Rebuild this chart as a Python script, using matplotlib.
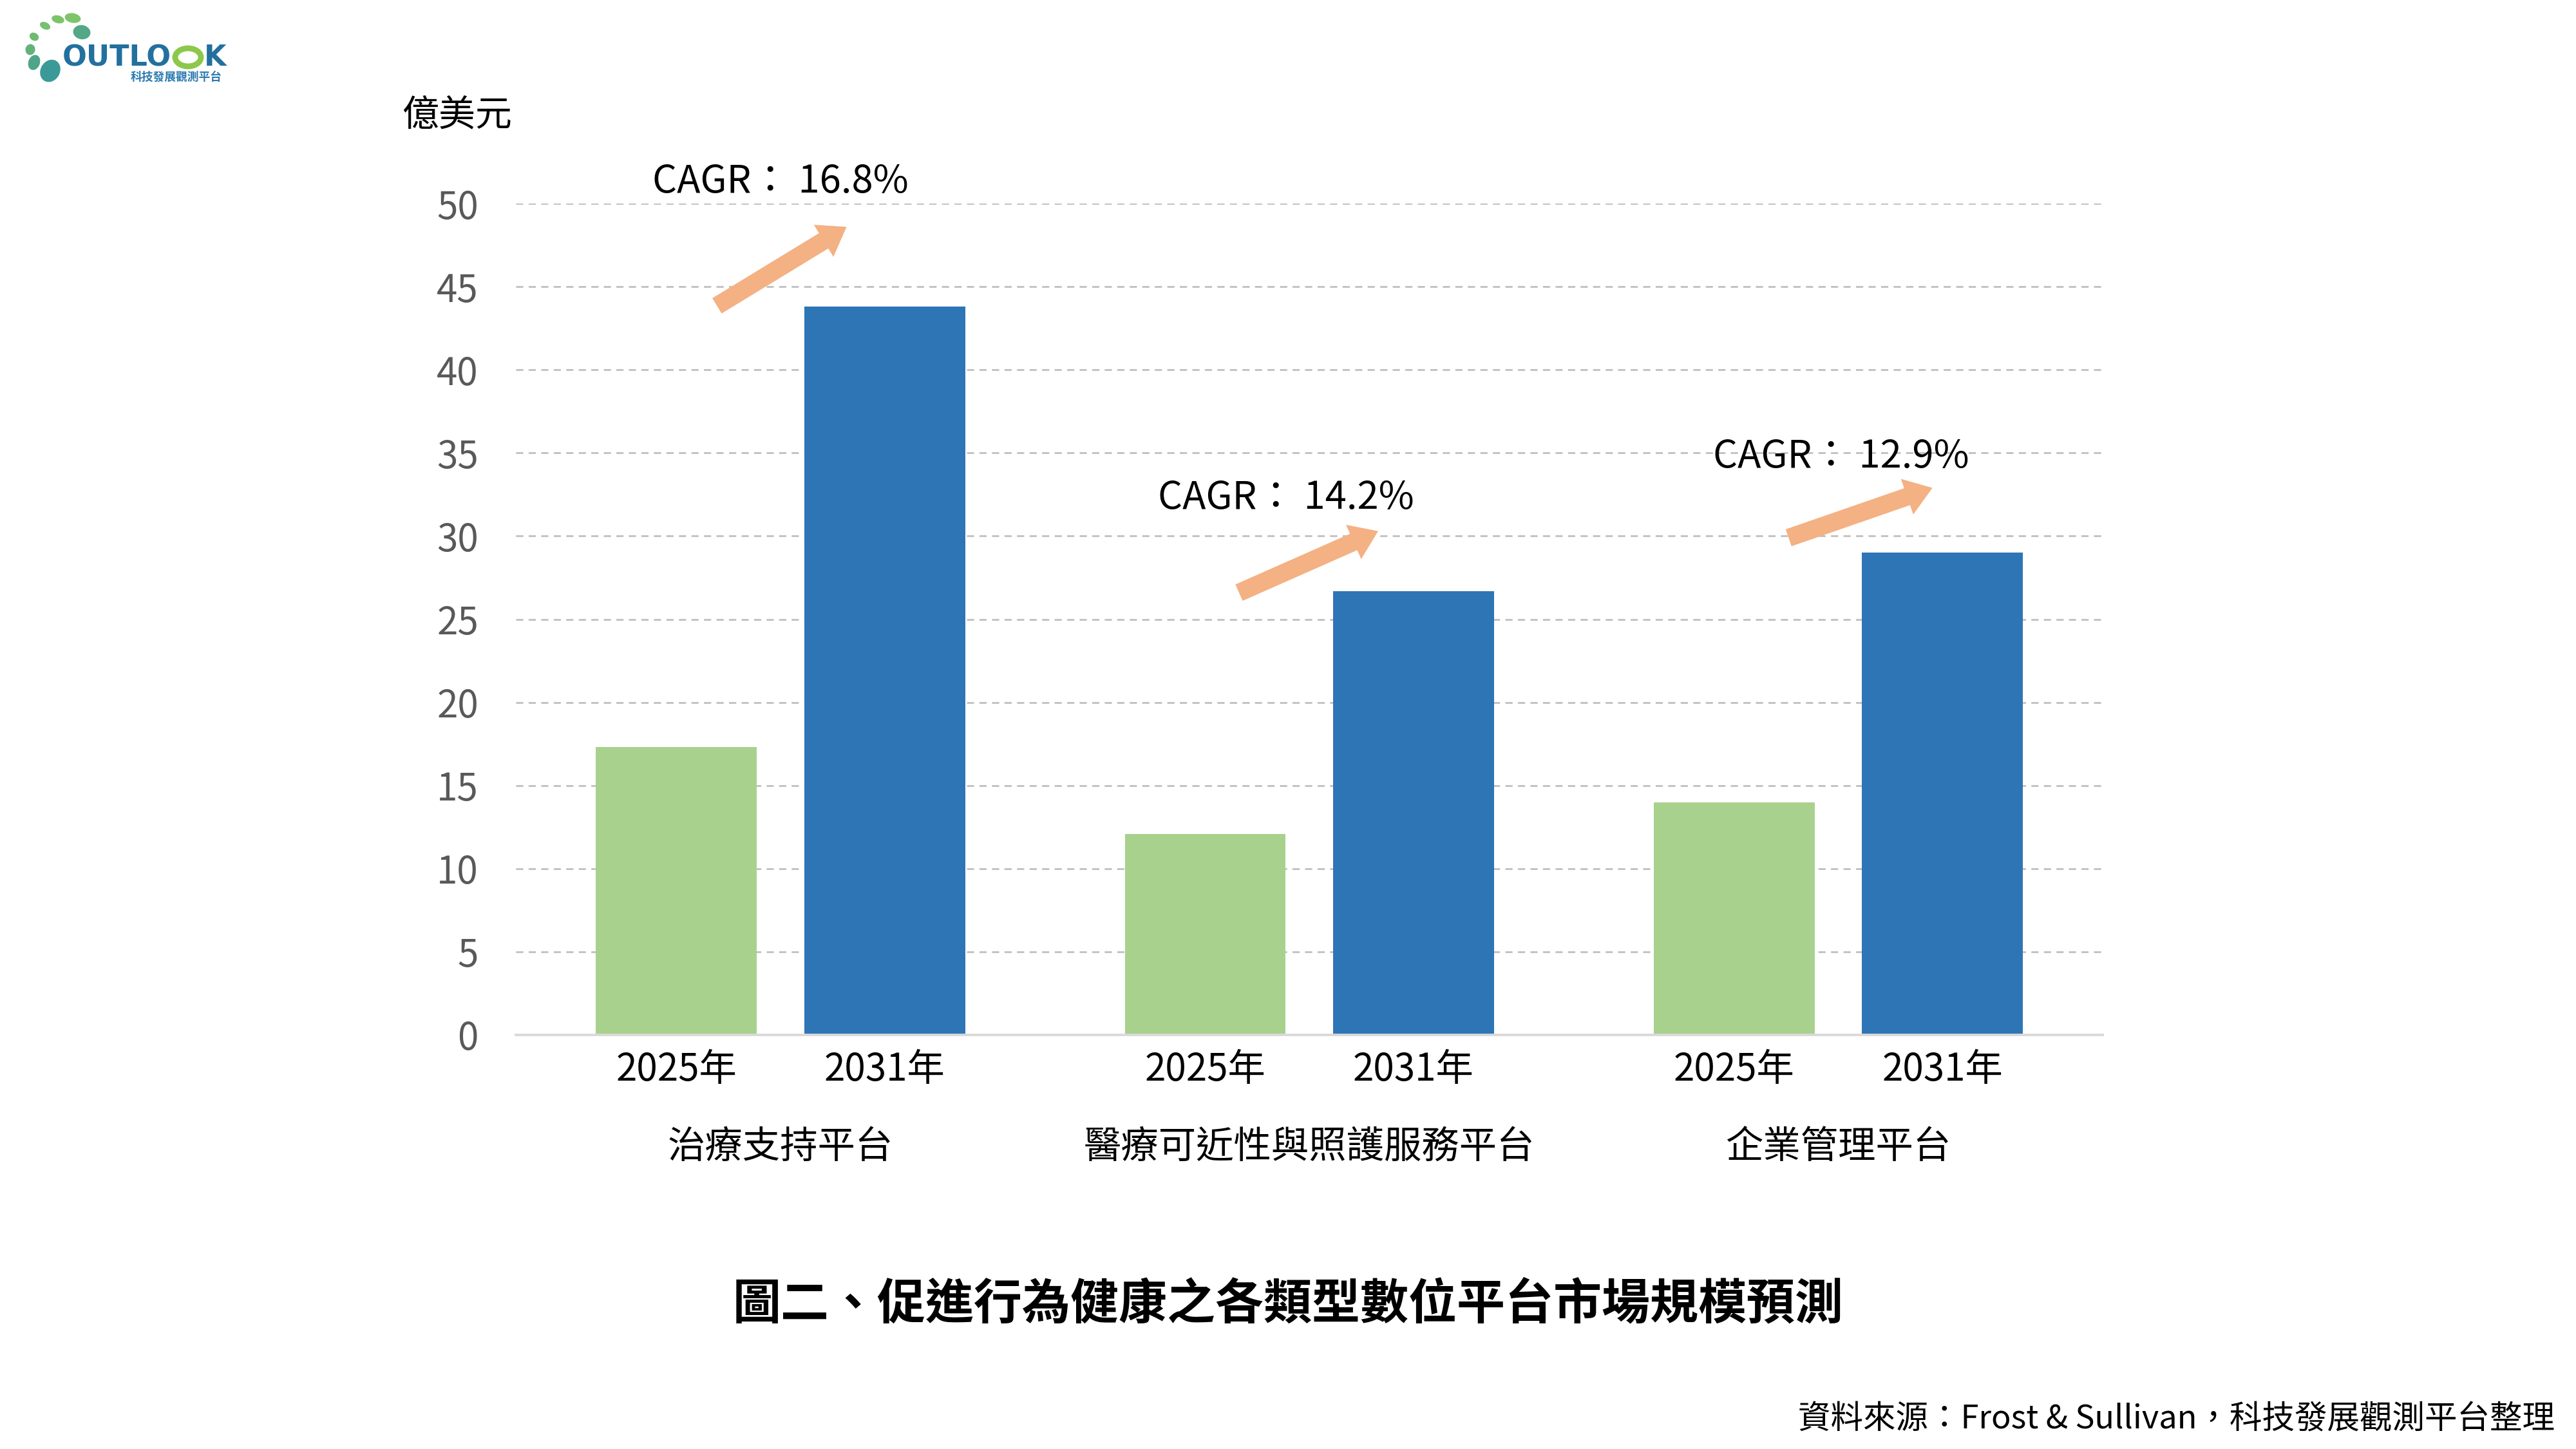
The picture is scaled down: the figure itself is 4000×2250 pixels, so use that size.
import matplotlib.pyplot as plt
from matplotlib.patches import FancyArrowPatch, Ellipse
import numpy as np

plt.rcParams['font.family'] = ['Noto Sans CJK TC', 'DejaVu Sans']

# market size, 億美元
categories = ['治療支持平台', '醫療可近性與照護服務平台', '企業管理平台']
years = ['2025年', '2031年']
values_2025 = [17.3, 12.1, 14.0]
values_2031 = [43.8, 26.7, 29.0]
cagr_labels = ['CAGR： 16.8%', 'CAGR： 14.2%', 'CAGR： 12.9%']

# arrow ends (start, tip) and label anchors, in data units
arrow_starts = [(-0.12, 43.85), (0.867, 26.6), (1.906, 29.9)]
arrow_tips = [(0.125, 48.6), (1.130, 30.3), (2.178, 32.9)]
label_pos = [(0.0, 51.3), (0.956, 32.3), (2.005, 34.75)]

GREEN = '#a9d18e'
BLUE = '#2e75b6'
ORANGE = '#f4b183'

fig = plt.figure(figsize=(20, 11.25), dpi=200)
ax = fig.add_axes([0.2003, 0.2858, 0.6160, 0.5737])

x = np.arange(len(categories))
off = 0.197
w = 0.304
ax.bar(x - off, values_2025, w, color=GREEN, zorder=3)
ax.bar(x + off, values_2031, w, color=BLUE, zorder=3)

ax.set_xlim(-0.5, 2.5)
ax.set_ylim(0, 50)
ax.set_yticks(range(0, 51, 5))
ax.tick_params(axis='y', length=0, pad=21, labelsize=21, labelcolor='#595959')
ax.set_xticks([])
ax.yaxis.grid(True, color='#c0c0c0', linewidth=1.0, linestyle=(0, (4, 3)), zorder=0)
for s in ['top', 'right', 'left']:
    ax.spines[s].set_visible(False)
ax.spines['bottom'].set_color('#d9d9d9')
ax.spines['bottom'].set_linewidth(1.4)
ax.spines['bottom'].set_zorder(4)

trans = ax.get_xaxis_transform()
for i, cat in enumerate(categories):
    ax.text(i - off, -0.042, years[0], transform=trans, ha='center', va='center', fontsize=21)
    ax.text(i + off, -0.042, years[1], transform=trans, ha='center', va='center', fontsize=21)
    ax.text(i, -0.135, cat, transform=trans, ha='center', va='center', fontsize=21)

# CAGR arrows and labels
for (x0, y0), (x1, y1), (tx, ty), lab in zip(arrow_starts, arrow_tips, label_pos, cagr_labels):
    arr = FancyArrowPatch((x0, y0), (x1, y1),
                          arrowstyle='simple,tail_width=0.5,head_width=1.05,head_length=0.75',
                          mutation_scale=20, color=ORANGE, lw=0,
                          shrinkA=0, shrinkB=0, zorder=5, clip_on=False)
    ax.add_patch(arr)
    ax.text(tx, ty, lab, ha='center', va='center', fontsize=21.5, zorder=6, clip_on=False)

fig.text(0.1773, 0.9206, '億美元', ha='center', va='center', fontsize=20.5)
fig.text(0.5, 0.0996, '圖二、促進行為健康之各類型數位平台市場規模預測',
         ha='center', va='center', fontsize=27, fontweight='bold')
fig.text(0.9917, 0.0204, '資料來源：Frost & Sullivan，科技發展觀測平台整理',
         ha='right', va='center', fontsize=18.2)

# rough OUTLOOK logo, drawn in pixel units of the top-left corner
lg = fig.add_axes([0, 1 - 160 / 2250, 0.1, 160 / 2250])
lg.set_xlim(0, 400)
lg.set_ylim(160, 0)
lg.axis('off')
dots = [(78, 110, 30, 36, 30, '#3b9a98'), (53, 97, 18, 24, 20, '#4ea58a'),
        (47, 77, 15, 17, 10, '#62b27c'), (53, 57, 15, 12, 30, '#6fbb74'),
        (70, 40, 17, 11, 25, '#78c070'), (90, 30, 20, 12, 15, '#7cc36c'),
        (113, 28, 25, 15, 10, '#7ec46c'), (127, 50, 27, 22, 10, '#54a887')]
for ex, ey, ew, eh, ang, c in dots:
    lg.add_patch(Ellipse((ex, ey), ew, eh, angle=ang, color=c, lw=0))
lg.text(97, 90, 'OUTLO', fontsize=16, fontweight='heavy', color='#23709f',
        ha='left', va='center', family=['DejaVu Sans'])
lg.add_patch(Ellipse((292, 89), 40, 28, fill=False, edgecolor='#8cc84b', lw=3.2))
lg.text(317, 90, 'K', fontsize=16, fontweight='heavy', color='#23709f',
        ha='left', va='center', family=['DejaVu Sans'])
lg.text(345, 120, '科技發展觀測平台', fontsize=6.4, fontweight='bold', color='#2b7bb0',
        ha='right', va='center')

fig.savefig('out.png', dpi=200, facecolor='white')
